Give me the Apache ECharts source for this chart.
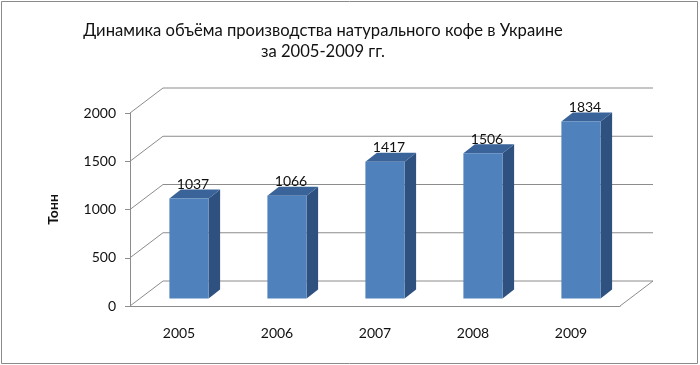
<!DOCTYPE html>
<html><head><meta charset="utf-8">
<script src="https://cdn.jsdelivr.net/npm/echarts@6/dist/echarts.min.js"></script>
<style>html,body{margin:0;padding:0;background:#fff}#c{width:700px;height:365px}</style>
</head><body><div id="c"></div>
<script>
const categories = ['2005', '2006', '2007', '2008', '2009'];
const values = [1037, 1066, 1417, 1506, 1834];
const yTicks = [0, 500, 1000, 1500, 2000];
const titleLines = ['Динамика объёма производства натурального кофе в Украине', 'за 2005-2009 гг.'];
const yName = 'Тонн';

const DX = 33, DY = -25;          // full depth of the 3D box
const FX = 10, FY = -7.5;         // bar front face offset
const BX = 11.5, BY = -9;         // bar depth
const gridColor = '#8c8c8c';
const FONT = 'Lato';

const chart = echarts.init(document.getElementById('c'));
chart.setOption({
  backgroundColor: '#fff',
  animation: false,
  title: {
    text: titleLines.join('\n'), left: 318, top: 15, textAlign: 'center',
    textStyle: { fontFamily: FONT, fontSize: 16.6, fontWeight: 'normal', color: '#111', lineHeight: 21 }
  },
  graphic: [{ type: 'rect', shape: { x: 1.5, y: 1.5, width: 696, height: 362 }, style: { fill: 'none', stroke: '#8a8a8a', lineWidth: 1 }, z: 100 }],
  grid: { left: 130, right: 80, top: 113, bottom: 59 },
  xAxis: {
    type: 'category', data: categories, boundaryGap: true,
    axisLine: { lineStyle: { color: gridColor } },
    axisTick: { length: 5, lineStyle: { color: gridColor } },
    axisLabel: { fontFamily: FONT, fontSize: 14, color: '#111', margin: 20 }
  },
  yAxis: {
    type: 'value', min: 0, max: 2000, interval: 500,
    name: yName, nameLocation: 'middle', nameRotate: 90, nameGap: 70,
    nameTextStyle: { fontFamily: FONT, fontSize: 14, fontWeight: 'bold', color: '#111' },
    axisLine: { show: true, lineStyle: { color: gridColor } },
    axisTick: { show: true, length: 5, lineStyle: { color: gridColor } },
    splitLine: { show: false },
    axisLabel: { fontFamily: FONT, fontSize: 14, color: '#111', margin: 14, formatter: v => String(v) }
  },
  series: [
    {
      type: 'custom', z: 1, silent: true,
      data: yTicks.map(v => [0, v]),
      renderItem: function (params, api) {
        const cs = params.coordSys;
        const y = api.coord([0, api.value(1)])[1];
        const x0 = cs.x, x1 = cs.x + cs.width;
        const ls = { stroke: gridColor, lineWidth: 1, fill: 'none' };
        const children = [{
          type: 'polyline', shape: { points: [[x0, y], [x0 + DX, y + DY], [x1 + DX, y + DY]] }, style: ls
        }];
        if (api.value(1) === 0) {
          children.push({ type: 'line', shape: { x1: x1, y1: y, x2: x1 + DX, y2: y + DY }, style: ls });
        }
        return { type: 'group', children: children };
      }
    },
    {
      type: 'custom', z: 2, silent: true,
      data: values.map((v, i) => [i, v]),
      renderItem: function (params, api) {
        const i = api.value(0), v = api.value(1);
        const p0 = api.coord([i, 0]), p1 = api.coord([i, v]);
        const bw = api.size([1, 0])[0] * 0.4;
        const cx = p0[0] + FX;
        const xl = cx - bw / 2, xr = cx + bw / 2;
        const yb = p0[1] + FY, yt = p1[1] + FY;
        return {
          type: 'group', children: [
            { type: 'polygon', shape: { points: [[xr, yt], [xr + BX, yt + BY], [xr + BX, yb + BY], [xr, yb]] }, style: { fill: '#2f5180' } },
            { type: 'polygon', shape: { points: [[xl, yt], [xl + BX, yt + BY], [xr + BX, yt + BY], [xr, yt]] }, style: { fill: '#3a6399' } },
            { type: 'rect', shape: { x: xl, y: yt, width: bw, height: yb - yt }, style: { fill: '#4f81bd' } },
            { type: 'text', x: cx + 4, y: yt + BY + 2, style: { text: String(v), align: 'center', verticalAlign: 'bottom', fontFamily: FONT, fontSize: 14, fill: '#111' } }
          ]
        };
      }
    }
  ]
});
</script></body></html>
